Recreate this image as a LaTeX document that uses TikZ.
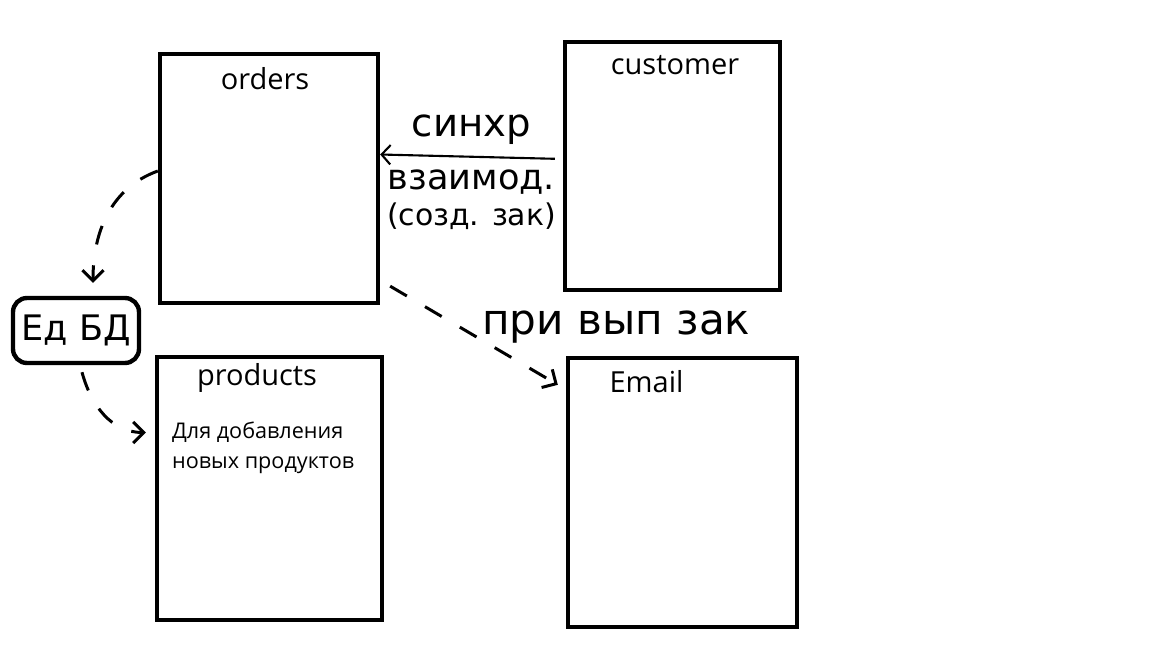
\documentclass[tikz,border=0pt]{standalone}
\usepackage{fontspec}
\setmainfont{Open Sans}
\newfontfamily\handfont{DejaVu Sans}
\usetikzlibrary{arrows.meta,positioning}

\begin{document}
\begin{tikzpicture}[
    x=0.02cm, y=-0.02cm,
    every node/.style={font=\fontsize{16}{19}\selectfont},
    box/.style={draw, line width=2.5pt, inner sep=0pt},
    dbbox/.style={box, rounded corners=0.28cm},
    title/.style={font=\fontsize{16.5}{19}\selectfont},
    note/.style={font=\fontsize{12.3}{16.8}\selectfont, align=left, inner sep=0pt},
    hand/.style={font=\handfont\fontsize{22}{26}\selectfont},
    arr/.style={-{Straight Barb[length=5pt,width=11pt]}, line width=1.2pt},
    dasharr/.style={-{Straight Barb[length=6pt,width=12pt]}, line width=1.7pt, dash pattern=on 11pt off 12pt}
]
\useasboundingbox (0,0) rectangle (1152,648);

% Services
\node[box, minimum width=4.36cm, minimum height=4.98cm] (orders) at (269,178.5) {};
\node[box, minimum width=4.3cm, minimum height=4.96cm] (customer) at (672.5,166) {};
\node[box, minimum width=4.5cm, minimum height=5.26cm] (products) at (269.5,488.5) {};
\node[box, minimum width=4.58cm, minimum height=5.38cm] (email) at (682.5,492.5) {};

% Titles
\node[title] (orderstitle) at ([xshift=-0.08cm, yshift=-0.54cm]orders.north) {orders};
\node[title] (customertitle) at ([xshift=0.05cm, yshift=-0.5cm]customer.north) {customer};
\node[title] (productstitle) at ([xshift=-0.25cm, yshift=-0.46cm]products.north) {products};
\node[title] (emailtitle) at ([xshift=-0.72cm, yshift=-0.52cm]email.north) {Email};
\node[note, anchor=north west] (prodnote) at ([xshift=0.34cm, yshift=-1.34cm]products.north west)
    {Для добавления\\новых продуктов};

% Shared DB
\node[dbbox, minimum width=2.52cm, minimum height=1.3cm, hand, font=\handfont\fontsize{20}{24}\selectfont] (edbd) at (76,330.5) {Ед БД};

% Connections
\draw[arr, shorten <=0.16cm] ([yshift=0.14cm]customer.west) -- ([yshift=0.48cm]orders.east)
    node[midway, above=0.1cm, hand] (sync) {синхр}
    node[midway, below=0.12cm, hand, font=\handfont\fontsize{20}{24}\selectfont] (interact) {взаимод.};
\node[below=-0.08cm of interact, hand, font=\handfont\fontsize{17}{20}\selectfont] (create) {(созд. зак)};

\draw[dasharr] ([yshift=0.15cm]orders.west) to[out=200, in=90] ([xshift=0.34cm, yshift=0.26cm]edbd.north);
\draw[dasharr] ([xshift=0.12cm, yshift=-0.14cm]edbd.south) to[out=-75, in=180] ([xshift=-0.18cm, yshift=1.12cm]products.west);
\draw[dasharr] ([shift={(0.2cm,0.38cm)}]orders.south east) -- ([shift={(-0.16cm,-0.58cm)}]email.north west)
    node[midway, anchor=west, xshift=0.02cm, yshift=0.16cm, hand, font=\handfont\fontsize{24}{28}\selectfont] (done) {при вып зак};

\end{tikzpicture}
\end{document}
